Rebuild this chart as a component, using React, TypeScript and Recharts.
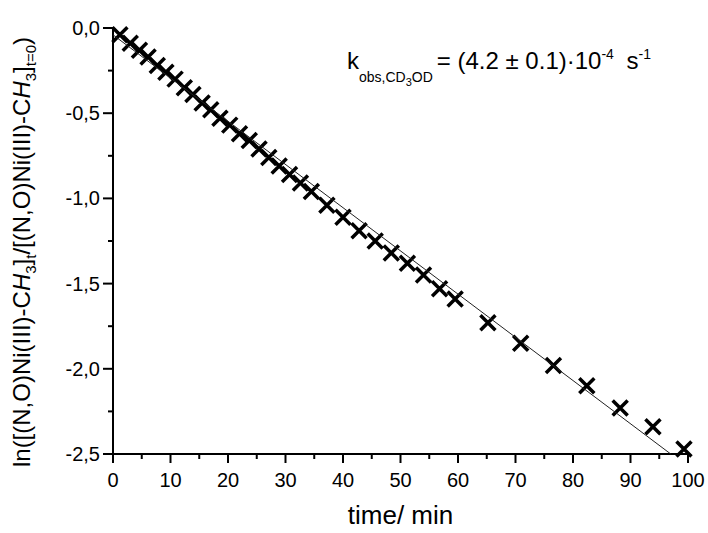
import { ScatterChart, Scatter, XAxis, YAxis } from "recharts";

// measured points: time in min, ln of concentration ratio
const time = [
  1.2, 3.0, 4.6, 6.1, 7.7, 9.2, 10.8, 12.4, 13.9, 15.5, 17.0, 18.6, 20.3, 22.0,
  23.7, 25.4, 27.1, 28.9, 30.7, 32.6, 34.5, 37.2, 40.0, 42.8, 45.6, 48.4, 51.2,
  54.0, 56.8, 59.5, 65.2, 70.9, 76.6, 82.4, 88.2, 93.9, 99.3,
];
const lnRatio = [
  -0.04, -0.09, -0.13, -0.17, -0.22, -0.26, -0.3, -0.35, -0.39, -0.44, -0.48,
  -0.53, -0.57, -0.62, -0.66, -0.71, -0.76, -0.81, -0.86, -0.91, -0.96, -1.04,
  -1.11, -1.19, -1.25, -1.32, -1.38, -1.45, -1.53, -1.59, -1.73, -1.85, -1.98,
  -2.1, -2.23, -2.34, -2.47,
];

// linear fit
const fitTime = [0, 97];
const fitLn = [-0.04, -2.5];

const xTicks = [0, 5, 10, 15, 20, 25, 30, 35, 40, 45, 50, 55, 60, 65, 70, 75, 80, 85, 90, 95, 100];
const yTicks = [0, -0.25, -0.5, -0.75, -1, -1.25, -1.5, -1.75, -2, -2.25, -2.5];

const points = time.map((t, i) => ({ t, v: lnRatio[i] }));
const fit = fitTime.map((t, i) => ({ t, v: fitLn[i] }));

const FONT = "'Liberation Sans', Arial, sans-serif";

function XTick(props: any) {
  const { x, y, payload } = props;
  const major = payload.value % 10 === 0;
  return (
    <g>
      <line x1={x} y1={y} x2={x} y2={y + (major ? 9 : 5)} stroke="#000" strokeWidth={2} />
      {major && (
        <text x={x} y={y + 33} textAnchor="middle" fontSize={20} fontFamily={FONT} fill="#000">
          {payload.value}
        </text>
      )}
    </g>
  );
}

function YTick(props: any) {
  const { x, y, payload } = props;
  const v = payload.value;
  const major = Math.abs(v * 2 - Math.round(v * 2)) < 1e-6;
  return (
    <g>
      <line x1={x - (major ? 10 : 5)} y1={y} x2={x} y2={y} stroke="#000" strokeWidth={2} />
      {major && (
        <text x={x - 13} y={y + 7} textAnchor="end" fontSize={20} fontFamily={FONT} fill="#000">
          {v.toFixed(1).replace(".", ",")}
        </text>
      )}
    </g>
  );
}

function Cross(props: any) {
  const { cx, cy } = props;
  const s = 7.5;
  return (
    <path
      d={`M${cx - s},${cy - s}L${cx + s},${cy + s}M${cx - s},${cy + s}L${cx + s},${cy - s}`}
      stroke="#000"
      strokeWidth={3.5}
      fill="none"
    />
  );
}

function YLabel() {
  return (
    <text transform="translate(30,252) rotate(-90)" textAnchor="middle" fontSize={24} fontFamily={FONT} fill="#000">
      ln([(N,O)Ni(III)-C<tspan fontStyle="italic">H</tspan>
      <tspan dy={6} fontSize={15}>3</tspan>
      <tspan dy={-6}>]</tspan>
      <tspan dy={6} fontSize={15}>t</tspan>
      <tspan dy={-6}>/[(N,O)Ni(III)-C</tspan>
      <tspan fontStyle="italic">H</tspan>
      <tspan dy={6} fontSize={15}>3</tspan>
      <tspan dy={-6}>]</tspan>
      <tspan dy={6} fontSize={15}>t=0</tspan>
      <tspan dy={-6}>)</tspan>
    </text>
  );
}

export default function App() {
  return (
    <div style={{ position: "absolute", left: 0, top: 0, width: 708, height: 533, background: "#fff" }}>
      <ScatterChart width={708} height={533} margin={{ top: 28, right: 20, bottom: 0, left: 0 }}>
        <XAxis
          dataKey="t"
          type="number"
          domain={[0, 100]}
          ticks={xTicks}
          interval={0}
          tickSize={0}
          tickMargin={0}
          tickLine={false}
          tick={<XTick />}
          axisLine={{ stroke: "#000", strokeWidth: 2 }}
          height={79}
          label={{ value: "time/ min", position: "insideBottom", offset: 9, fontSize: 26, fontFamily: FONT, fill: "#000" }}
        />
        <YAxis
          dataKey="v"
          type="number"
          domain={[-2.5, 0]}
          ticks={yTicks}
          interval={0}
          tickSize={0}
          tickMargin={0}
          tickLine={false}
          tick={<YTick />}
          axisLine={{ stroke: "#000", strokeWidth: 2 }}
          width={113}
          label={{ content: () => <YLabel /> }}
        />
        <Scatter data={points} shape={<Cross />} isAnimationActive={false} />
        <Scatter
          data={fit}
          line={{ stroke: "#222", strokeWidth: 1 }}
          shape={() => <g />}
          isAnimationActive={false}
        />
      </ScatterChart>
      <svg width={708} height={533} style={{ position: "absolute", left: 0, top: 0, pointerEvents: "none" }}>
        <text x={347} y={69} fontSize={24} fontFamily={FONT} fill="#000">
          k
          <tspan dy={13} fontSize={14}>obs,CD</tspan>
          <tspan dy={4} fontSize={11}>3</tspan>
          <tspan dy={-4} fontSize={14}>OD</tspan>
          <tspan dy={-13} dx={4}>= (4.2 ± 0.1)·10</tspan>
          <tspan dy={-10} fontSize={14}>-4</tspan>
          <tspan dy={10} dx={6}> s</tspan>
          <tspan dy={-10} fontSize={14}>-1</tspan>
        </text>
      </svg>
    </div>
  );
}
